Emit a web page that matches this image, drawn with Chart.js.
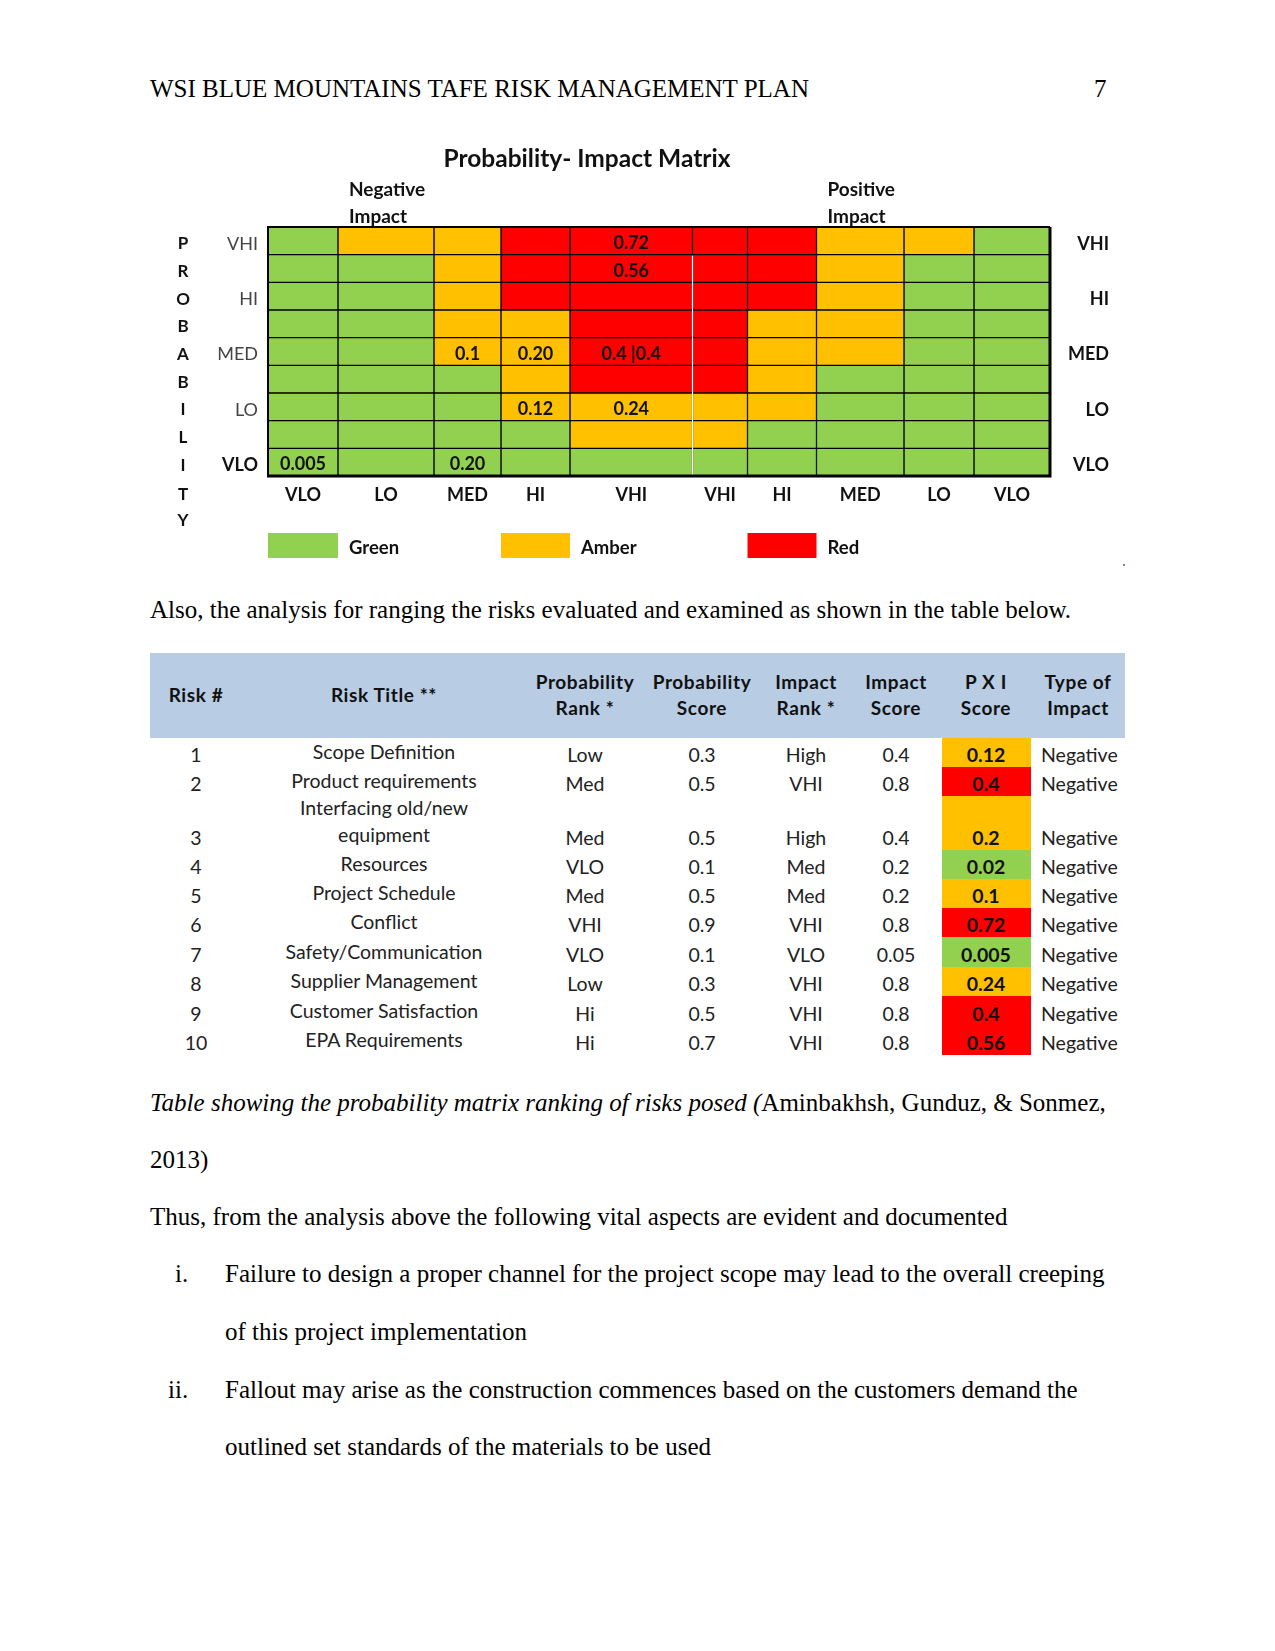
<!DOCTYPE html>
<html><head><meta charset="utf-8">
<script src="https://cdn.jsdelivr.net/npm/chart.js@4.4.1/dist/chart.umd.min.js"></script>
<style>
html,body{margin:0;padding:0;background:#fff;}
body{width:1275px;height:1651px;position:relative;overflow:hidden;font-family:"Liberation Serif","Times New Roman",serif;color:#000;}
.t{position:absolute;white-space:nowrap;font-size:25px;line-height:30px;height:30px;}
#wrap{position:absolute;left:0;top:120px;width:1275px;height:470px;}
.tb{position:absolute;font-family:Lato,"Open Sans",sans-serif;white-space:nowrap;line-height:22px;height:22px;}
#tbl .hd{font-weight:bold;font-size:19px;letter-spacing:0.6px;color:#111;text-align:center;}
#tbl .bd{font-size:19.5px;color:#222;}
</style></head><body>

<div class="t" style="left:150px;top:74px;">WSI BLUE MOUNTAINS TAFE RISK MANAGEMENT PLAN</div>
<div class="t" style="left:1094px;top:74px;">7</div>

<div id="wrap"><canvas id="c" width="1275" height="470"></canvas></div>
<div style="position:absolute;left:1123px;top:564px;width:2px;height:2px;background:#6b7bd6;"></div>

<div class="t" style="left:150px;top:595px;">Also, the analysis for ranging the risks evaluated and examined as shown in the table below.</div>

<div id="tbl"></div>

<div class="t" style="left:150px;top:1088px;"><i>Table showing the probability matrix ranking of risks posed (</i>Aminbakhsh, Gunduz, &amp; Sonmez,</div>
<div class="t" style="left:150px;top:1145px;">2013)</div>
<div class="t" style="left:150px;top:1202px;">Thus, from the analysis above the following vital aspects are evident and documented</div>
<div class="t" style="left:175px;top:1259px;">i.</div>
<div class="t" style="left:225px;top:1259px;">Failure to design a proper channel for the project scope may lead to the overall creeping</div>
<div class="t" style="left:225px;top:1317px;">of this project implementation</div>
<div class="t" style="left:168px;top:1375px;">ii.</div>
<div class="t" style="left:225px;top:1375px;">Fallout may arise as the construction commences based on the customers demand the</div>
<div class="t" style="left:225px;top:1432px;">outlined set standards of the materials to be used</div>

<script>
// ---------- Probability-Impact matrix data ----------
const probLevels = ['VHI', '', 'HI', '', 'MED', '', 'LO', '', 'VLO'];          // rows, top to bottom
const impactLevels = ['VLO', 'LO', 'MED', 'HI', 'VHI', 'VHI', 'HI', 'MED', 'LO', 'VLO']; // columns, left to right
const impactBandWidths = [70, 96, 67, 69, 122.5, 55, 69, 87.5, 70, 76];        // relative band widths
const riskGrid = [
  ['G','A','A','R','R','R','R','A','A','G'],
  ['G','G','A','R','R','R','R','A','G','G'],
  ['G','G','A','R','R','R','R','A','G','G'],
  ['G','G','A','A','R','R','A','A','G','G'],
  ['G','G','A','A','R','R','A','A','G','G'],
  ['G','G','G','A','R','R','A','G','G','G'],
  ['G','G','G','A','A','A','A','G','G','G'],
  ['G','G','G','G','A','A','G','G','G','G'],
  ['G','G','G','G','G','G','G','G','G','G']
];
const cellScores = [
  {row: 0, col: 4, text: '0.72'},
  {row: 1, col: 4, text: '0.56'},
  {row: 4, col: 2, text: '0.1'},
  {row: 4, col: 3, text: '0.20'},
  {row: 4, col: 4, text: '0.4 |0.4'},
  {row: 6, col: 3, text: '0.12'},
  {row: 6, col: 4, text: '0.24'},
  {row: 8, col: 0, text: '0.005'},
  {row: 8, col: 2, text: '0.20'}
];
const axisWord = ['P','R','O','B','A','B','I','L','I','T','Y'];
const legendKeys = ['G', 'A', 'R'];
const legendLabels = ['Green', 'Amber', 'Red'];

// ---------- Risk table data ----------
const riskNo = ['1','2','3','4','5','6','7','8','9','10'];
const riskTitle = ['Scope Definition','Product requirements','Interfacing old/new|equipment','Resources','Project Schedule','Conflict','Safety/Communication','Supplier Management','Customer Satisfaction','EPA Requirements'];
const probRank = ['Low','Med','Med','VLO','Med','VHI','VLO','Low','Hi','Hi'];
const probScore = ['0.3','0.5','0.5','0.1','0.5','0.9','0.1','0.3','0.5','0.7'];
const impactRank = ['High','VHI','High','Med','Med','VHI','VLO','VHI','VHI','VHI'];
const impactScore = ['0.4','0.8','0.4','0.2','0.2','0.8','0.05','0.8','0.8','0.8'];
const pxiScore = ['0.12','0.4','0.2','0.02','0.1','0.72','0.005','0.24','0.4','0.56'];
const pxiRating = ['A','R','A','G','A','R','G','A','R','R'];
const impactType = ['Negative','Negative','Negative','Negative','Negative','Negative','Negative','Negative','Negative','Negative'];
const tableHeaders = ['Risk #','Risk Title **','Probability|Rank *','Probability|Score','Impact|Rank *','Impact|Score','P X I|Score','Type of|Impact'];

// ---------- styles ----------
const ragColor = {G: '#92D050', A: '#FFC000', R: '#FF0000'};
const FONT = 'Lato, "Open Sans", sans-serif';

const edges = [0];
impactBandWidths.forEach(w => edges.push(edges[edges.length - 1] + w));
const centers = impactBandWidths.map((w, i) => edges[i] + w / 2);

const datasets = impactLevels.map((lvl, c) => ({
  label: lvl + ' ' + c,
  data: probLevels.map(() => [edges[c], edges[c + 1]]),
  backgroundColor: riskGrid.map(row => ragColor[row[c]]),
  borderColor: '#000',
  borderWidth: 1,
  borderSkipped: false,
  grouped: false,
  barPercentage: 1,
  categoryPercentage: 1
}));

const decor = {
  id: 'decor',
  afterDatasetsDraw(chart) {
    const {ctx, chartArea: a, scales} = chart;
    const x = scales.x, y = scales.y;
    const rowH = Math.abs(y.getPixelForValue(1) - y.getPixelForValue(0));
    ctx.save();
    // double line between the two VHI columns
    const xd = x.getPixelForValue(edges[5]);
    ctx.strokeStyle = '#fff'; ctx.lineWidth = 1.2;
    ctx.beginPath(); ctx.moveTo(xd, y.getPixelForValue(0) + rowH / 2 + 1); ctx.lineTo(xd, a.bottom - 1); ctx.stroke();
    // outer frame
    ctx.strokeStyle = '#000';
    ctx.lineWidth = 2; ctx.beginPath(); ctx.moveTo(a.left, a.bottom); ctx.lineTo(a.left, a.top); ctx.lineTo(a.right, a.top); ctx.stroke();
    ctx.lineWidth = 3; ctx.beginPath(); ctx.moveTo(a.right, a.top); ctx.lineTo(a.right, a.bottom); ctx.lineTo(a.left - 1, a.bottom); ctx.stroke();
    // cell scores
    ctx.fillStyle = '#111'; ctx.font = 'bold 18px ' + FONT; ctx.textAlign = 'center'; ctx.textBaseline = 'middle';
    cellScores.forEach(s => {
      ctx.fillText(s.text, x.getPixelForValue(centers[s.col]), y.getPixelForValue(s.row) + 2.5);
    });
    // PROBABILITY letters
    ctx.font = 'bold 17px ' + FONT;
    axisWord.forEach((ch, i) => {
      const py = i < probLevels.length ? y.getPixelForValue(i) + 3 : a.bottom + 19 + (i - probLevels.length) * 26;
      ctx.fillText(ch, 183, py);
    });
    // title and impact headings
    ctx.font = 'bold 24.5px ' + FONT; ctx.fillStyle = '#111';
    ctx.fillText('Probability- Impact Matrix', 587, a.top - 68);
    ctx.font = 'bold 19px ' + FONT; ctx.textAlign = 'left';
    [[1, 'Negative'], [7, 'Positive']].forEach(([c, t]) => {
      const lx = x.getPixelForValue(edges[c]) + 11;
      ctx.fillText(t, lx, a.top - 37);
      ctx.fillText('Impact', lx, a.top - 10);
    });
    // legend
    ctx.font = 'bold 18.5px ' + FONT;
    legendKeys.forEach((k, i) => {
      const col = [0, 3, 6][i];
      const x0 = x.getPixelForValue(edges[col]), x1 = x.getPixelForValue(edges[col + 1]);
      ctx.fillStyle = ragColor[k];
      ctx.fillRect(x0, a.bottom + 57, x1 - x0, 25);
      ctx.fillStyle = '#111';
      ctx.fillText(legendLabels[i], x1 + 11, a.bottom + 72);
    });
    ctx.restore();
  }
};

new Chart(document.getElementById('c'), {
  type: 'bar',
  data: {labels: probLevels, datasets},
  options: {
    indexAxis: 'y',
    responsive: false,
    animation: false,
    devicePixelRatio: 1,
    layout: {padding: {left: 0, right: 166, top: 107, bottom: 64}},
    plugins: {legend: {display: false}, tooltip: {enabled: false}, title: {display: false}},
    scales: {
      x: {
        type: 'linear', min: 0, max: edges[edges.length - 1], position: 'bottom',
        grid: {display: false, drawTicks: false}, border: {display: false},
        afterBuildTicks: s => { s.ticks = centers.map(v => ({value: v})); },
        afterFit: s => { s.height = 50; },
        ticks: {
          autoSkip: false, maxRotation: 0, padding: 8, color: '#111',
          font: {family: FONT, size: 18, weight: 'bold'},
          callback: (v, i) => impactLevels[i]
        }
      },
      y: {
        type: 'category', position: 'left', offset: true,
        grid: {display: false, drawTicks: false}, border: {display: false},
        afterFit: s => { s.width = 268; },
        ticks: {
          padding: 10, crossAlign: 'near', autoSkip: false, labelOffset: 3,
          color: c => c.tick && c.tick.label === 'VLO' ? '#111' : '#444',
          font: c => ({family: FONT, size: 18, weight: c.tick && c.tick.label === 'VLO' ? 'bold' : 'normal'})
        }
      },
      y2: {
        type: 'category', position: 'right', offset: true, labels: probLevels,
        grid: {display: false, drawTicks: false}, border: {display: false},
        afterFit: s => { s.width = 59; },
        ticks: {padding: 0, crossAlign: 'far', autoSkip: false, labelOffset: 3, color: '#111',
          font: {family: FONT, size: 18, weight: 'bold'}}
      }
    }
  },
  plugins: [decor]
});

// ---------- table ----------
(function () {
  const root = document.getElementById('tbl');
  const add = (cls, txt, style) => {
    const d = document.createElement('div');
    d.className = 'tb ' + cls; d.textContent = txt;
    Object.assign(d.style, style); root.appendChild(d); return d;
  };
  const band = document.createElement('div');
  Object.assign(band.style, {position: 'absolute', left: '150px', top: '653px', width: '975px', height: '85px', background: '#B8CCE4'});
  root.appendChild(band);
  const colCenter = [196, 384, 585, 702, 806, 896, 986, 1078];
  tableHeaders.forEach((h, i) => {
    const lines = h.split('|');
    lines.forEach((ln, j) => {
      const cy = lines.length === 1 ? 695 : (j === 0 ? 682 : 708);
      add('hd', ln, {left: (colCenter[i] - 80) + 'px', width: '160px', top: (cy - 11) + 'px'});
    });
  });
  const rowBottom = [767, 796, 850, 879, 908, 937, 967, 996, 1026, 1055];
  const rowTop = [738].concat(rowBottom.slice(0, -1));
  riskNo.forEach((n, r) => {
    const cy = rowBottom[r] - 12;
    const cell = document.createElement('div');
    Object.assign(cell.style, {position: 'absolute', left: '942px', width: '89px', top: rowTop[r] + 'px', height: (rowBottom[r] - rowTop[r]) + 'px', background: ragColor[pxiRating[r]]});
    root.appendChild(cell);
    const c = (txt, i, extra) => add('bd', txt, Object.assign({left: (colCenter[i] - 100) + 'px', width: '200px', textAlign: 'center', top: (cy - 11) + 'px'}, extra || {}));
    c(n, 0);
    const tl = riskTitle[r].split('|');
    tl.forEach((ln, j) => {
      const ty = rowBottom[r] - 15.5 - (tl.length - 1 - j) * 27;
      add('bd', ln, {left: (colCenter[1] - 130) + 'px', width: '260px', textAlign: 'center', top: (ty - 11) + 'px'});
    });
    c(probRank[r], 2); c(probScore[r], 3); c(impactRank[r], 4); c(impactScore[r], 5);
    c(pxiScore[r], 6, {fontWeight: 'bold', color: '#111'});
    add('bd', impactType[r], {left: '1041px', top: (cy - 11) + 'px'});
  });
})();
</script>
</body></html>
